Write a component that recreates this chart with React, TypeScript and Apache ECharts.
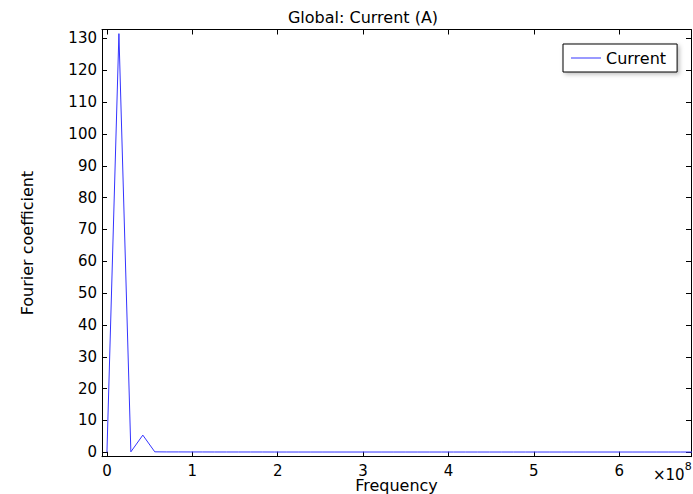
import React, { useEffect, useRef } from "react";
import * as echarts from "echarts";

// Frequency in units of 1e8 Hz
const frequencies = [
  0, 0.14, 0.28, 0.42, 0.56, 0.7, 0.84, 0.98, 1.12, 1.26,
  1.4, 1.54, 1.68, 1.82, 1.96, 2.1, 2.24, 2.38, 2.52, 2.66,
  2.8, 2.94, 3.08, 3.22, 3.36, 3.5, 3.64, 3.78, 3.92, 4.06,
  4.2, 4.34, 4.48, 4.62, 4.76, 4.9, 5.04, 5.18, 5.32, 5.46,
  5.6, 5.74, 5.88, 6.02, 6.16, 6.3, 6.44, 6.58, 6.72, 6.86,
];
const currentCoeff = [
  0, 131.5, 0.15, 5.4, 0.15, 0.12, 0.12, 0.11, 0.11, 0.1,
  0.1, 0.1, 0.1, 0.1, 0.09, 0.09, 0.09, 0.09, 0.09, 0.09,
  0.09, 0.09, 0.09, 0.09, 0.09, 0.09, 0.09, 0.09, 0.09, 0.09,
  0.09, 0.09, 0.09, 0.09, 0.09, 0.09, 0.09, 0.09, 0.09, 0.09,
  0.09, 0.09, 0.09, 0.09, 0.09, 0.09, 0.09, 0.09, 0.09, 0.09,
];
const xTicks = [0, 1, 2, 3, 4, 5, 6];
const yTicks = [0, 10, 20, 30, 40, 50, 60, 70, 80, 90, 100, 110, 120, 130];

const FONT = "DejaVu Sans";

export default function App() {
  const ref = useRef<HTMLDivElement>(null);
  useEffect(() => {
    if (!ref.current) return;
    const chart = echarts.init(ref.current, null, { renderer: "svg" });
    const data = frequencies.map((f, i) => [f, currentCoeff[i]]);
    const xBase = {
      type: "value" as const,
      min: -0.058,
      max: 6.84,
      splitLine: { show: false },
      axisLine: { show: true, onZero: false, lineStyle: { color: "#000", width: 1 } },
      axisTick: { show: true, inside: true, length: 5, customValues: xTicks, lineStyle: { color: "#000" } },
    };
    const yBase = {
      type: "value" as const,
      min: -1.38,
      max: 132.8,
      splitLine: { show: false },
      axisLine: { show: true, onZero: false, lineStyle: { color: "#000", width: 1 } },
      axisTick: { show: true, inside: true, length: 5, customValues: yTicks, lineStyle: { color: "#000" } },
    };
    chart.setOption({
      animation: false,
      backgroundColor: "#fff",
      title: {
        text: "Global: Current (A)",
        left: 358,
        top: 4,
        textAlign: "center",
        textStyle: { fontFamily: FONT, fontSize: 16, fontWeight: "normal", color: "#000" },
      },
      grid: { left: 102, right: 2, top: 29.5, bottom: 37.3, containLabel: false, outerBoundsMode: "none" },
      legend: {
        data: ["Current"],
        left: 563,
        top: 44,
        padding: [6, 11, 6, 8],
        itemWidth: 30,
        itemHeight: 14,
        itemGap: 0,
        backgroundColor: "#fff",
        borderColor: "#000",
        borderWidth: 1,
        shadowColor: "rgba(0,0,0,0.25)",
        shadowBlur: 4,
        shadowOffsetX: 2,
        shadowOffsetY: 2,
        icon: "path://M0,0 L30,0 L30,1 L0,1 Z",
        textStyle: { fontFamily: FONT, fontSize: 16, color: "#000" },
      },
      xAxis: [
        {
          ...xBase,
          position: "bottom",
          name: "Frequency",
          nameLocation: "middle",
          nameGap: 21,
          nameMoveOverlap: false,
          nameTextStyle: { fontFamily: FONT, fontSize: 16, color: "#000" },
          axisLabel: {
            show: true,
            customValues: xTicks,
            margin: 9,
            lineHeight: 11,
            fontFamily: FONT,
            fontSize: 15,
            color: "#000",
          },
        },
        {
          ...xBase,
          position: "top",
          axisLabel: { show: false },
        },
      ],
      yAxis: [
        {
          ...yBase,
          position: "left",
          name: "Fourier coefficient",
          nameLocation: "middle",
          nameGap: 67,
          nameMoveOverlap: false,
          nameTextStyle: { fontFamily: FONT, fontSize: 16, color: "#000" },
          axisLabel: {
            show: true,
            customValues: yTicks,
            margin: 5,
            fontFamily: FONT,
            fontSize: 15,
            color: "#000",
          },
        },
        {
          ...yBase,
          position: "right",
          axisLabel: { show: false },
        },
      ],
      graphic: [
        {
          type: "text",
          left: 653,
          top: 461,
          style: {
            text: "{a|×10}{b|8}",
            rich: {
              a: { fontFamily: FONT, fontSize: 15, fill: "#000", verticalAlign: "bottom", padding: [6, 0, 0, 0] },
              b: { fontFamily: FONT, fontSize: 11, fill: "#000", verticalAlign: "top" },
            },
          },
        },
      ],
      series: [
        {
          name: "Current",
          type: "line",
          data,
          showSymbol: false,
          symbol: "none",
          lineStyle: { color: "#3434ff", width: 1 },
          itemStyle: { color: "#3434ff" },
          clip: true,
        },
      ],
    });
    return () => chart.dispose();
  }, []);
  return <div ref={ref} style={{ width: 693, height: 494, position: "absolute", left: 0, top: 0 }} />;
}
